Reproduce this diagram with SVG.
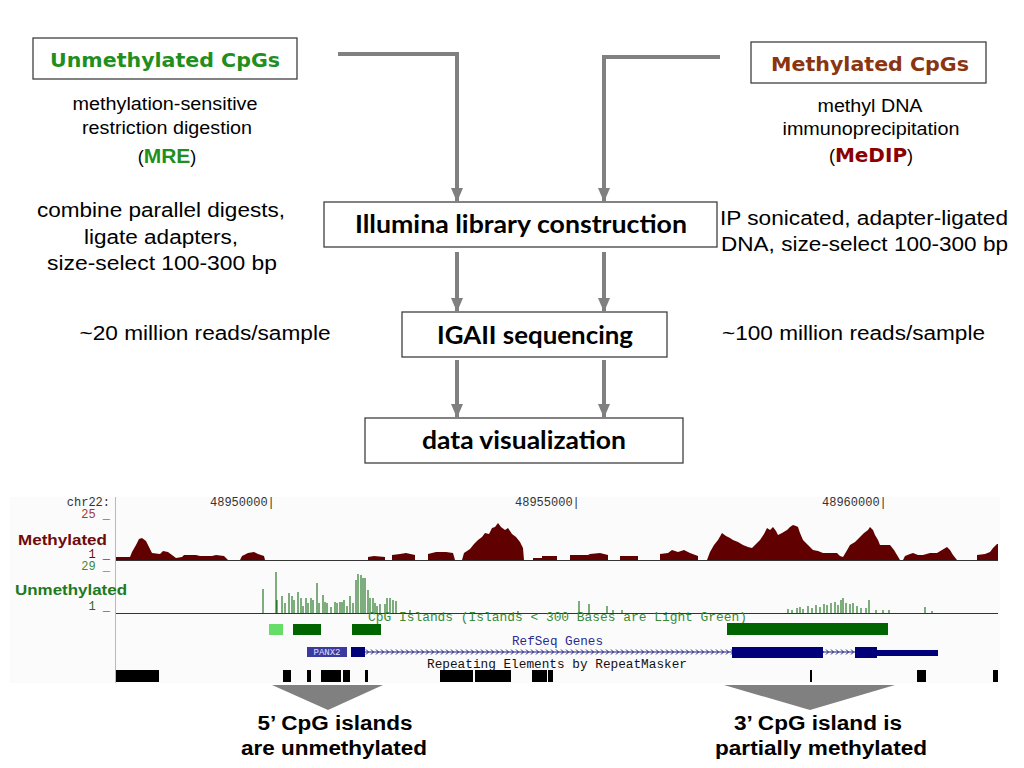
<svg xmlns="http://www.w3.org/2000/svg" width="1024" height="768" viewBox="0 0 1024 768">
<defs>
<style>
.body{font-family:"Liberation Sans",Arial,sans-serif;fill:#000}
.box{fill:#fff;stroke:#404040;stroke-width:1.3}
.head{font-family:"DejaVu Sans","Liberation Sans",sans-serif;font-weight:bold}
.step{font-family:Lato,"Open Sans",sans-serif;font-weight:bold;font-size:24px;fill:#000}
.flow{fill:none;stroke:#808080;stroke-width:4}
.mono{font-family:"Liberation Mono","DejaVu Sans Mono",monospace;font-size:12px}
.bold{font-family:"Liberation Sans",Arial,sans-serif;font-weight:bold;font-size:20px;fill:#000}
</style>
<marker id="ah" viewBox="0 0 14 12" refX="13" refY="6" markerWidth="14" markerHeight="12" markerUnits="userSpaceOnUse" orient="auto">
<path d="M0,0 L14,6 L0,12 Z" fill="#808080"/>
</marker>
<pattern id="chev" x="365" y="649" width="5" height="6" patternUnits="userSpaceOnUse">
<path d="M1,0.5 L3.5,3 L1,5.5" fill="none" stroke="#1a1a80" stroke-width="1"/>
</pattern>
</defs>
<rect width="1024" height="768" fill="#fff"/>

<g id="unmethylated">
<rect class="box" x="33" y="38" width="264" height="41"/>
<text class="head" x="165" y="67" text-anchor="middle" font-size="19" fill="#1f8f1f" textLength="230" lengthAdjust="spacingAndGlyphs">Unmethylated CpGs</text>
<text class="body" x="165" y="110" text-anchor="middle" font-size="17.5" textLength="185" lengthAdjust="spacingAndGlyphs">methylation-sensitive</text>
<text class="body" x="167" y="134" text-anchor="middle" font-size="17.5" textLength="170" lengthAdjust="spacingAndGlyphs">restriction digestion</text>
<text class="body" x="167" y="163" text-anchor="middle" font-size="18">(<tspan font-weight="bold" font-size="21" fill="#1f8f1f">MRE</tspan>)</text>
</g>

<g id="methylated">
<rect class="box" x="751" y="42" width="235" height="41"/>
<text class="head" x="870" y="71" text-anchor="middle" font-size="19" fill="#8a3510" textLength="198" lengthAdjust="spacingAndGlyphs">Methylated CpGs</text>
<text class="body" x="870" y="112" text-anchor="middle" font-size="17.5" textLength="105" lengthAdjust="spacingAndGlyphs">methyl DNA</text>
<text class="body" x="871" y="135" text-anchor="middle" font-size="17.5" textLength="177" lengthAdjust="spacingAndGlyphs">immunoprecipitation</text>
<text class="body" x="871" y="162" text-anchor="middle" font-size="18">(<tspan class="head" font-size="20" fill="#8b0000">MeDIP</tspan>)</text>
</g>

<g id="notes-left">
<text class="body" x="161" y="217" text-anchor="middle" font-size="19.5" textLength="248" lengthAdjust="spacingAndGlyphs">combine parallel digests,</text>
<text class="body" x="161" y="244" text-anchor="middle" font-size="19.5" textLength="154" lengthAdjust="spacingAndGlyphs">ligate adapters,</text>
<text class="body" x="162" y="270" text-anchor="middle" font-size="19.5" textLength="230" lengthAdjust="spacingAndGlyphs">size-select 100-300 bp</text>
<text class="body" x="205" y="340" text-anchor="middle" font-size="19.5" textLength="251" lengthAdjust="spacingAndGlyphs">~20 million reads/sample</text>
</g>

<g id="notes-right">
<text class="body" x="720" y="225" font-size="20" textLength="288" lengthAdjust="spacingAndGlyphs">IP sonicated, adapter-ligated</text>
<text class="body" x="721" y="251" font-size="20" textLength="287" lengthAdjust="spacingAndGlyphs">DNA, size-select 100-300 bp</text>
<text class="body" x="722" y="340" font-size="19.5" textLength="263" lengthAdjust="spacingAndGlyphs">~100 million reads/sample</text>
</g>

<g id="illumina">
<rect class="box" x="324" y="202" width="393" height="45"/>
<text class="step" x="521" y="233" text-anchor="middle" textLength="332" lengthAdjust="spacingAndGlyphs">Illumina library construction</text>
</g>
<g id="igaii">
<rect class="box" x="402" y="312" width="265" height="45"/>
<text class="step" x="535" y="344" text-anchor="middle" textLength="196" lengthAdjust="spacingAndGlyphs">IGAII sequencing</text>
</g>
<g id="dataviz">
<rect class="box" x="365" y="418" width="318" height="45"/>
<text class="step" x="524" y="449" text-anchor="middle" textLength="204" lengthAdjust="spacingAndGlyphs">data visualization</text>
</g>

<g id="connectors">
<path class="flow" d="M338,54 H457 V201" marker-end="url(#ah)"/>
<path class="flow" d="M720,57 H604 V201" marker-end="url(#ah)"/>
<path class="flow" d="M457,252 V311" marker-end="url(#ah)"/>
<path class="flow" d="M604,252 V311" marker-end="url(#ah)"/>
<path class="flow" d="M457,360 V417" marker-end="url(#ah)"/>
<path class="flow" d="M604,360 V417" marker-end="url(#ah)"/>
</g>

<g id="browser">
<rect x="10" y="497" width="990" height="186" fill="#fbfbfb"/>
<line x1="115.5" y1="497" x2="115.5" y2="683" stroke="#f2a0a0" stroke-width="1"/>
<text class="mono" x="110" y="506" text-anchor="end" fill="#333">chr22:</text>
<text class="mono" x="210" y="506" fill="#333">48950000|</text>
<text class="mono" x="515" y="506" fill="#333">48955000|</text>
<text class="mono" x="822" y="506" fill="#333">48960000|</text>
<text class="mono" x="110" y="518" text-anchor="end" fill="#9b3a3a">25 _</text>
<text x="18" y="545" font-family="Liberation Sans,Arial,sans-serif" font-weight="bold" font-size="15" fill="#6e0a0a" textLength="89" lengthAdjust="spacingAndGlyphs">Methylated</text>
<text class="mono" x="110" y="558" text-anchor="end" fill="#6e0a0a">1 _</text>
<text class="mono" x="110" y="570" text-anchor="end" fill="#3a8a3a">29 _</text>
<text x="15" y="595" font-family="Liberation Sans,Arial,sans-serif" font-weight="bold" font-size="15" fill="#1e7a1e" textLength="112" lengthAdjust="spacingAndGlyphs">Unmethylated</text>
<text class="mono" x="110" y="610" text-anchor="end" fill="#1e6a1e">1 _</text>

<g fill="#600000">
<path d="M116,560 L116,557 L130,557 L132,552 L136,545 L139,539 L142,538 L146,541 L149,547 L152,553 L160,554 L163,551 L168,552 L172,555 L176,558 L182,557 L184,555 L196,555 L200,556 L212,556 L216,555 L224,556 L228,560 L240,560 L242,556 L248,553 L254,552 L258,554 L264,556 L265,560 Z"/>
<path d="M368,560 L368,557 L374,556 L385,557 L385,560 L392,560 L392,555 L400,554 L406,553 L415,555 L415,560 L428,560 L428,554 L436,552 L446,552 L453,553 L455,560 L462,560 L464,553 L470,549 L474,544 L478,540 L482,537 L485,533 L489,534 L492,528 L495,527 L498,523 L501,527 L505,530 L508,528 L512,534 L516,537 L520,542 L523,548 L524,560 Z"/>
<path d="M533,560 L533,558 L542,558 L542,556 L557,556 L557,560 Z"/>
<path d="M570,560 L570,555 L588,555 L590,554 L600,553 L608,555 L608,560 Z"/>
<path d="M620,560 L620,556 L638,556 L638,560 Z"/>
<path d="M660,560 L660,554 L668,553 L672,550 L678,552 L684,550 L690,553 L698,556 L698,560 Z"/>
<path d="M707,560 L710,552 L714,545 L718,540 L722,533 L726,536 L730,538 L733,540 L738,542 L743,545 L748,547 L752,548 L756,544 L760,540 L764,534 L767,528 L770,530 L773,527 L776,531 L778,535 L782,533 L787,530 L790,527 L793,525 L796,526 L798,527 L800,533 L803,540 L808,545 L813,550 L818,551 L823,553 L837,553 L840,556 L843,557 L846,552 L850,545 L855,542 L860,537 L864,533 L868,530 L870,527 L873,530 L875,535 L878,540 L880,545 L890,545 L894,550 L897,555 L900,560 L903,560 L905,556 L910,554 L913,553 L918,555 L923,555 L930,553 L937,553 L942,550 L947,547 L950,550 L953,555 L957,560 Z"/>
<path d="M977,560 L977,555 L985,554 L990,552 L993,548 L997,544 L998,544 L998,560 Z"/>
</g>
<line x1="116" y1="560.5" x2="998" y2="560.5" stroke="#333" stroke-width="1"/>

<path fill="none" stroke="#2a7a2a" stroke-width="1.2" d="M263,613V589 M276,613V572 M277,613V600 M282,613V596 M285,613V603 M289,613V593 M292,613V596 M294,613V600 M298,613V592 M301,613V598 M303,613V606 M306,613V598 M308,613V603 M311,613V598 M313,613V600 M317,613V583 M319,613V603 M323,613V595 M325,613V602 M327,613V603 M331,613V607 M335,613V602 M337,613V603 M340,613V602 M342,613V602 M344,613V600 M347,613V606 M350,613V596 M353,613V603 M356,613V580 M358,613V574 M361,613V575 M363,613V578 M365,613V578 M368,613V590 M370,613V598 M373,613V598 M375,613V603 M377,613V606 M380,613V604 M385,613V604 M387,613V598 M390,613V598 M393,613V600 M396,613V601 M410,613V610 M518,613V611 M579,613V601 M589,613V604 M607,613V606 M613,613V610 M622,613V610 M788,613V609 M792,613V610 M797,613V608 M800,613V607 M803,613V609 M808,613V606 M812,613V608 M816,613V605 M820,613V607 M824,613V604 M827,613V605 M831,613V603 M835,613V602 M838,613V605 M841,613V600 M843,613V598 M846,613V603 M850,613V604 M853,613V603 M857,613V606 M861,613V608 M866,613V608 M869,613V600 M876,613V610 M883,613V610 M889,613V610 M925,613V607 M932,613V611"/>
<line x1="116" y1="613.5" x2="998" y2="613.5" stroke="#333" stroke-width="1"/>

<text class="mono" x="368" y="621" fill="#3a8a3a" textLength="379" lengthAdjust="spacingAndGlyphs">CpG Islands (Islands &lt; 300 Bases are Light Green)</text>
<rect x="269" y="624" width="14" height="11" fill="#66dd66"/>
<rect x="293" y="624" width="28" height="11" fill="#006400"/>
<rect x="352" y="624" width="29" height="11" fill="#006400"/>
<rect x="727" y="623" width="161" height="12" fill="#006400"/>

<text class="mono" x="512" y="645" fill="#2a2a90" textLength="91" lengthAdjust="spacingAndGlyphs">RefSeq Genes</text>
<rect x="307" y="647" width="40" height="10" fill="#3a3aa0"/>
<text x="327" y="655" text-anchor="middle" font-family="Liberation Mono,monospace" font-size="9" fill="#e0e0ff">PANX2</text>
<rect x="365" y="649" width="368" height="6" fill="url(#chev)"/>
<rect x="823" y="649" width="32" height="6" fill="url(#chev)"/>
<line x1="351" y1="652" x2="938" y2="652" stroke="#1a1a80" stroke-width="1"/>
<rect x="351" y="647" width="14" height="10" fill="#00007a"/>
<rect x="732" y="647" width="91" height="11" fill="#00007a"/>
<rect x="855" y="647" width="22" height="11" fill="#00007a"/>
<rect x="877" y="650" width="61" height="6" fill="#00007a"/>

<text class="mono" x="427" y="668" fill="#111" textLength="260" lengthAdjust="spacingAndGlyphs">Repeating Elements by RepeatMasker</text>
<g fill="#000">
<rect x="116" y="670" width="43" height="12"/>
<rect x="283" y="670" width="8" height="12"/>
<rect x="307" y="670" width="4" height="12"/>
<rect x="321" y="670" width="20" height="12"/>
<rect x="343" y="670" width="7" height="12"/>
<rect x="365" y="670" width="3" height="12"/>
<rect x="440" y="670" width="33" height="12"/>
<rect x="475" y="670" width="36" height="12"/>
<rect x="532" y="670" width="15" height="12"/>
<rect x="548" y="670" width="5" height="12"/>
<rect x="810" y="670" width="2" height="12"/>
<rect x="917" y="670" width="9" height="12"/>
<rect x="993" y="670" width="5" height="12"/>
</g>
</g>

<g id="callouts">
<path d="M272,685 L383,685 L328,710 Z" fill="#808080"/>
<path d="M724,685 L895,685 L810,710 Z" fill="#808080"/>
</g>
<g id="note-5prime">
<text class="bold" x="335" y="730" text-anchor="middle" textLength="155" lengthAdjust="spacingAndGlyphs">5’ CpG islands</text>
<text class="bold" x="334" y="755" text-anchor="middle" textLength="186" lengthAdjust="spacingAndGlyphs">are unmethylated</text>
</g>
<g id="note-3prime">
<text class="bold" x="818" y="730" text-anchor="middle" textLength="168" lengthAdjust="spacingAndGlyphs">3’ CpG island is</text>
<text class="bold" x="821" y="755" text-anchor="middle" textLength="212" lengthAdjust="spacingAndGlyphs">partially methylated</text>
</g>
</svg>
